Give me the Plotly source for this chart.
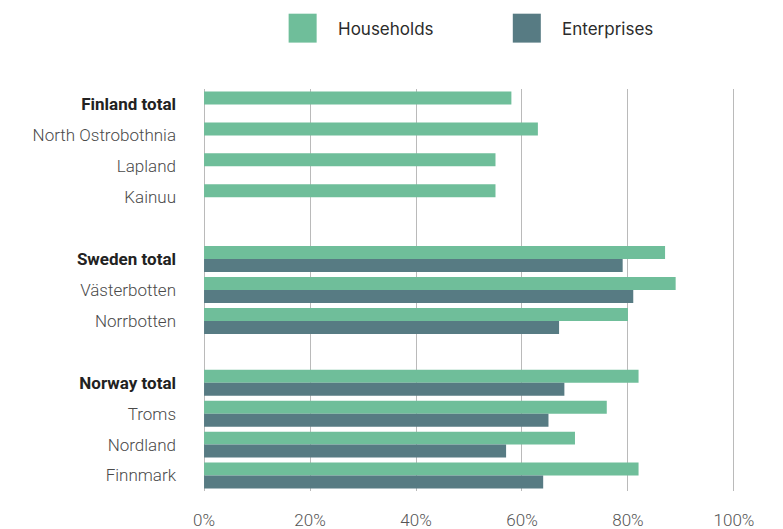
import plotly.graph_objects as go

# Regions grouped by country, with blank spacer rows between groups
regions = [
    "<b>Finland total</b>", "North Ostrobothnia", "Lapland", "Kainuu", " ",
    "<b>Sweden total</b>", "Västerbotten", "Norrbotten", "  ",
    "<b>Norway total</b>", "Troms", "Nordland", "Finnmark",
]
households = [58, 63, 55, 55, None, 87, 89, 80, None, 82, 76, 70, 82]
enterprises = [None, None, None, None, None, 79, 81, 67, None, 68, 65, 57, 64]

series_names = ["Households", "Enterprises"]
colors = ["#6fbe9a", "#577b83"]
x_ticks = [0, 20, 40, 60, 80, 100]
x_tick_labels = ["0%", "20%", "40%", "60%", "80%", "100%"]

W, H = 783, 529
ML, MR, MT, MB = 203.44, 47.96, 88.5, 37.5
PW, PH = W - ML - MR, H - MT - MB

# Country totals get a darker label colour
tick_text = [
    f'<span style="color:#222222">{r}</span>' if r.startswith("<b>") else r
    for r in regions
]

fig = go.Figure()
for name, vals, col in zip(series_names, [households, enterprises], colors):
    fig.add_trace(go.Bar(
        y=regions, x=vals, orientation="h", name=name,
        marker=dict(color=col, line=dict(width=0)),
        showlegend=False,
    ))

# Custom legend: large square keys with labels above the plot
key_x = [289, 513]
for name, col, kx in zip(series_names, colors, key_x):
    fig.add_shape(type="rect", xref="paper", yref="paper",
                  x0=(kx - ML) / PW, x1=(kx + 28 - ML) / PW,
                  y0=(H - MB - 42) / PH, y1=(H - MB - 13) / PH,
                  fillcolor=col, line=dict(width=0))
    fig.add_annotation(text=name, xref="paper", yref="paper",
                       x=(kx + 47 - ML) / PW, y=(H - MB - 28) / PH,
                       xanchor="left", yanchor="middle", showarrow=False,
                       font=dict(family="Inter", size=17, color="#2b2b2b"))

fig.update_layout(
    width=W, height=H,
    margin=dict(l=ML, r=MR, t=MT, b=MB),
    paper_bgcolor="white", plot_bgcolor="white",
    barmode="group", bargap=0.16, bargroupgap=0,
    font=dict(family="Roboto", size=17, color="#555555"),
    xaxis=dict(
        range=[-0.2, 100.2], tickvals=x_ticks, ticktext=x_tick_labels,
        showgrid=True, gridcolor="#bababa", gridwidth=1,
        zeroline=False, showline=False, ticks="", automargin=False,
        ticklabelstandoff=17,
        tickfont=dict(family="Roboto", size=17, color="#555555", weight=300),
    ),
    yaxis=dict(
        categoryorder="array", categoryarray=regions,
        tickmode="array", tickvals=regions, ticktext=tick_text,
        autorange="reversed", showgrid=False, zeroline=False,
        showline=False, ticks="", automargin=False, ticklabelstandoff=26,
        tickfont=dict(family="Roboto", size=17, color="#4a4a4a", weight=300),
    ),
)

fig.write_html("out.html")
